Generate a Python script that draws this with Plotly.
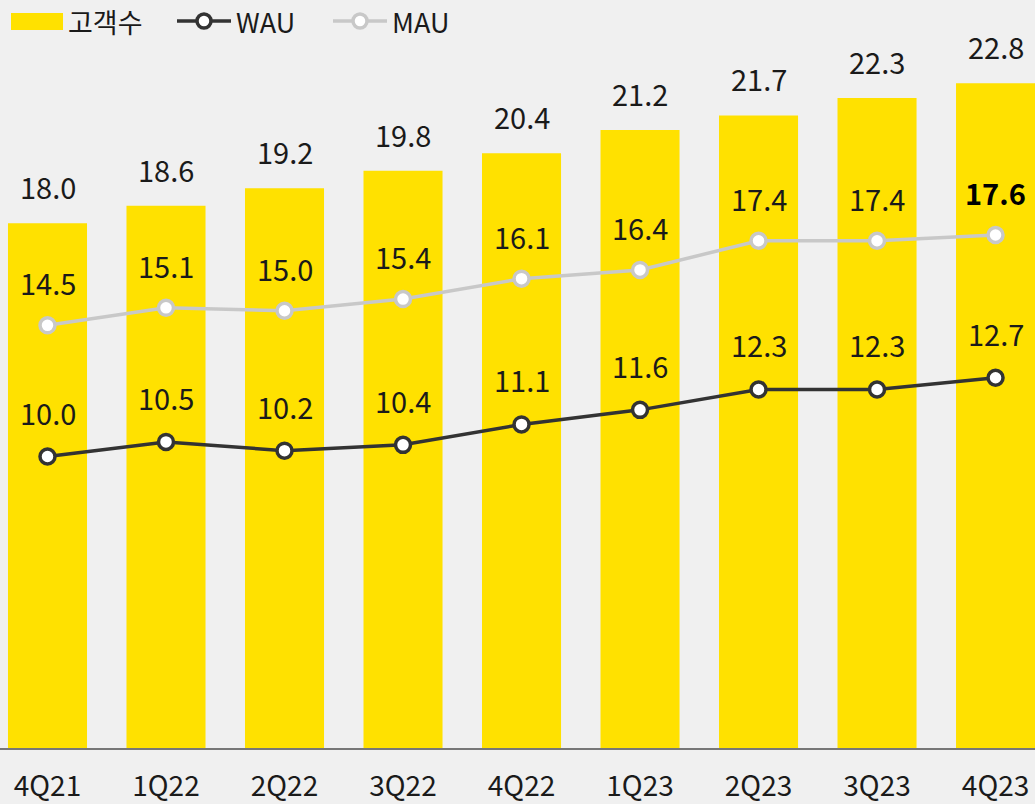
import plotly.graph_objects as go

quarters = ["4Q21", "1Q22", "2Q22", "3Q22", "4Q22", "1Q23", "2Q23", "3Q23", "4Q23"]
customers = [18.0, 18.6, 19.2, 19.8, 20.4, 21.2, 21.7, 22.3, 22.8]
wau = [10.0, 10.5, 10.2, 10.4, 11.1, 11.6, 12.3, 12.3, 12.7]
mau = [14.5, 15.1, 15.0, 15.4, 16.1, 16.4, 17.4, 17.4, 17.6]

YELLOW = "#FFE100"
DARK = "#333333"
LIGHT = "#C8C8C8"
BG = "#F0F0F0"
FONT = "Noto Sans CJK KR, Roboto, sans-serif"
FS = 29

x = list(range(len(quarters)))

fig = go.Figure()
fig.add_trace(go.Bar(x=x, y=customers, marker=dict(color=YELLOW, line=dict(width=0)),
                     width=0.667, name="고객수", showlegend=False, hoverinfo="skip"))
fig.add_trace(go.Scatter(x=x, y=mau, mode="lines+markers", name="MAU", showlegend=False,
                         line=dict(color=LIGHT, width=3.5),
                         marker=dict(size=15, color="white", line=dict(color=LIGHT, width=3.5))))
fig.add_trace(go.Scatter(x=x, y=wau, mode="lines+markers", name="WAU", showlegend=False,
                         line=dict(color=DARK, width=3.5),
                         marker=dict(size=15, color="white", line=dict(color=DARK, width=3.5))))

ann = []
for i, v in enumerate(customers):
    ann.append(dict(x=i, y=v, xref="x", yref="y", text=f"{v:.1f}", showarrow=False,
                    yshift=37, font=dict(size=FS, color="#1a1a1a", family=FONT)))
for i, v in enumerate(mau):
    last = i == len(mau) - 1
    txt = f"<b>{v:.1f}</b>" if last else f"{v:.1f}"
    ann.append(dict(x=i, y=v, xref="x", yref="y", text=txt, showarrow=False,
                    yshift=43, font=dict(size=FS, color="#000000" if last else "#1a1a1a", family=FONT)))
for i, v in enumerate(wau):
    ann.append(dict(x=i, y=v, xref="x", yref="y", text=f"{v:.1f}", showarrow=False,
                    yshift=45, font=dict(size=FS, color="#1a1a1a", family=FONT)))

# custom legend (pixel layout in paper coords)
W, H_plot = 1035, 748
def px(xp):
    return xp / W
def py(yp):
    return 1 - yp / H_plot

shapes = [
    dict(type="rect", xref="paper", yref="paper", x0=px(11), x1=px(63), y0=py(30), y1=py(13),
         fillcolor=YELLOW, line=dict(width=0)),
    dict(type="line", xref="paper", yref="paper", x0=px(177), x1=px(231), y0=py(21), y1=py(21),
         line=dict(color=DARK, width=3.5)),
    dict(type="circle", xref="paper", yref="paper", x0=px(197), x1=px(211), y0=py(28), y1=py(14),
         fillcolor="white", line=dict(color=DARK, width=3.5)),
    dict(type="line", xref="paper", yref="paper", x0=px(333), x1=px(387), y0=py(21), y1=py(21),
         line=dict(color=LIGHT, width=3.5)),
    dict(type="circle", xref="paper", yref="paper", x0=px(353), x1=px(367), y0=py(28), y1=py(14),
         fillcolor="white", line=dict(color=LIGHT, width=3.5)),
]
for label, xpos in [("고객수", 66), ("WAU", 234), ("MAU", 390)]:
    ann.append(dict(x=px(xpos), y=py(21), xref="paper", yref="paper", text=label, showarrow=False,
                    xanchor="left", yanchor="middle", font=dict(size=27, color="#1a1a1a", family=FONT)))

fig.update_layout(
    width=1035, height=804,
    margin=dict(l=0, r=0, t=0, b=56, autoexpand=False),
    paper_bgcolor=BG, plot_bgcolor=BG,
    showlegend=False,
    annotations=ann, shapes=shapes,
)
fig.update_xaxes(tickmode="array", tickvals=x, ticktext=quarters, range=[-0.4008, 8.333],
                 showgrid=False, zeroline=False, showline=True, linecolor="#777777", linewidth=2,
                 ticks="", ticklabelstandoff=12, automargin=False,
                 tickfont=dict(size=28, color="#1a1a1a", family=FONT))
fig.update_yaxes(range=[0, 25.66], visible=False, showgrid=False, zeroline=False, automargin=False)

fig.write_html("out.html", config={"displayModeBar": False},
               post_script="document.body.style.margin='0';document.body.style.overflow='hidden';")
